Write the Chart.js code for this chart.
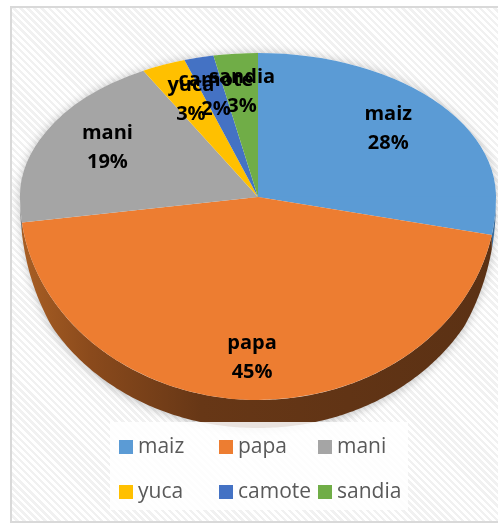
<!DOCTYPE html>
<html>
<head>
<meta charset="utf-8">
<script src="https://cdn.jsdelivr.net/npm/chart.js@4/dist/chart.umd.min.js"></script>
<style>
  html, body { margin: 0; padding: 0; background: #ffffff; width: 498px; height: 525px; overflow: hidden; }
  #frame {
    position: absolute; left: 10px; top: 6px; width: 500px; height: 513px;
    border: 2px solid #d9d9d9;
    background: repeating-linear-gradient(45deg, #ffffff 0px, #ffffff 2.5px, #f1f1f1 2.5px, #f1f1f1 5px);
  }
  #chart { position: absolute; left: 0; top: 0; z-index: 1; }
  #legend {
    position: absolute; left: 110px; top: 422px; width: 298px; height: 88px;
    background: rgba(255,255,255,0.86); z-index: 2;
    font-family: "Open Sans", sans-serif; font-size: 21px; color: #595959;
  }
  .item { position: absolute; height: 20px; line-height: 20px; white-space: nowrap; }
  .box { position: absolute; left: 0; top: 3px; width: 14px; height: 14px; }
  .txt { position: absolute; left: 19px; top: -2px; }
</style>
</head>
<body>
<div id="frame"></div>
<canvas id="chart" width="498" height="525"></canvas>
<div id="legend"></div>
<script>
const categories = ['maiz', 'papa', 'mani', 'yuca', 'camote', 'sandia'];
const values = [28, 45, 19, 3, 2, 3];
const colors = ['#5B9BD5', '#ED7D31', '#A5A5A5', '#FFC000', '#4472C4', '#70AD47'];
const sideColors = ['#3b6d9c', null, '#6f6f6f', '#b08500', '#2d4f8a', '#4d7a30'];

const CY = 197, K_TOP = 0.605, K_BOT = 0.853, DEPTH = 28;

function halfK(dy) { return dy < 0 ? K_TOP : K_BOT; }

const pie3d = {
  id: 'pie3d',
  beforeDatasetsDraw(chart) {
    const meta = chart.getDatasetMeta(0);
    const ctx = chart.ctx;
    const a0 = meta.data[0];
    const ox = a0.x, oy = a0.y, R = a0.outerRadius;
    const cx = ox, cy = CY;
    const W = chart.width, H = chart.height;

    // soft shadow under silhouette of top face
    ctx.save();
    ctx.shadowColor = 'rgba(0,0,0,0.22)';
    ctx.shadowBlur = 10;
    ctx.fillStyle = '#ffffff';
    ctx.beginPath();
    for (let i = 0; i <= 360; i++) {
      const a = i / 360 * Math.PI * 2;
      const s = Math.sin(a);
      const x = cx + R * Math.cos(a);
      const y = cy + R * s * (s < 0 ? K_TOP : K_BOT);
      if (i === 0) ctx.moveTo(x, y); else ctx.lineTo(x, y);
    }
    ctx.closePath();
    ctx.fill();
    ctx.restore();

    // side walls
    const depthAt = a => DEPTH * Math.pow(Math.min(Math.max(Math.sin(a), 0) / 0.5, 1), 0.7);
    meta.data.forEach((arc, i) => {
      const s = arc.startAngle, e = arc.endAngle;
      const ranges = [[s, e], [s - 2 * Math.PI, e - 2 * Math.PI]];
      ranges.forEach(([rs, re]) => {
        const from = Math.max(rs, 0), to = Math.min(re, Math.PI);
        if (to <= from) return;
        const n = Math.max(4, Math.ceil((to - from) * 80));
        ctx.save();
        ctx.beginPath();
        for (let j = 0; j <= n; j++) {
          const a = from + (to - from) * j / n;
          const x = cx + R * Math.cos(a), y = cy + R * K_BOT * Math.sin(a);
          if (j === 0) ctx.moveTo(x, y); else ctx.lineTo(x, y);
        }
        for (let j = n; j >= 0; j--) {
          const a = from + (to - from) * j / n;
          const x = cx + R * Math.cos(a), y = cy + R * K_BOT * Math.sin(a) + depthAt(a);
          ctx.lineTo(x, y);
        }
        ctx.closePath();
        if (sideColors[i]) {
          ctx.fillStyle = sideColors[i];
        } else {
          const g = ctx.createLinearGradient(cx - R, 0, cx + R, 0);
          g.addColorStop(0, '#a95f24');
          g.addColorStop(0.15, '#8a4a1c');
          g.addColorStop(0.38, '#673716');
          g.addColorStop(1, '#5b3114');
          ctx.fillStyle = g;
        }
        ctx.shadowColor = 'rgba(0,0,0,0.22)';
        ctx.shadowBlur = 8;
        ctx.shadowOffsetY = 2;
        ctx.fill();
        ctx.restore();
      });
    });

    // top face: two affine halves approximating perspective
    const halves = [[0, cy + 0.6, K_TOP], [cy - 0.6, H, K_BOT]];
    halves.forEach(([y0, y1, k]) => {
      ctx.save();
      ctx.beginPath();
      ctx.rect(0, y0, W, y1 - y0);
      ctx.clip();
      ctx.translate(cx, cy);
      ctx.scale(1, k);
      ctx.translate(-ox, -oy);
      meta.controller.draw();
      ctx.restore();
    });
    return false;
  },
  afterDraw(chart) {
    const meta = chart.getDatasetMeta(0);
    const ctx = chart.ctx;
    const total = values.reduce((a, b) => a + b, 0);
    ctx.save();
    ctx.font = 'bold 20px "Open Sans"';
    ctx.fillStyle = '#000000';
    ctx.textAlign = 'center';
    ctx.textBaseline = 'middle';
    meta.data.forEach((arc, i) => {
      const R = arc.outerRadius;
      const mid = (arc.startAngle + arc.endAngle) / 2;
      const s = Math.sin(mid);
      const f = s < 0 ? 0.71 : 0.79;
      const x = arc.x + R * f * Math.cos(mid);
      const y = CY + R * f * s * halfK(s) - (s < 0 ? 3 : 0);
      const pct = Math.round(values[i] / total * 100) + '%';
      ctx.fillText(categories[i], x, y - 14.5);
      ctx.fillText(pct, x, y + 14.5);
    });
    ctx.restore();
  }
};

new Chart(document.getElementById('chart'), {
  type: 'pie',
  data: {
    labels: categories,
    datasets: [{ data: values, backgroundColor: colors, borderWidth: 0 }]
  },
  options: {
    responsive: false,
    animation: false,
    devicePixelRatio: 1,
    layout: { padding: { left: 20, right: 2, top: 0, bottom: 49 } },
    plugins: { legend: { display: false }, tooltip: { enabled: false } }
  },
  plugins: [pie3d]
});

// legend (grid layout like the original)
const legend = document.getElementById('legend');
const colX = [9, 109, 208];
const rowY = [15, 60];
categories.forEach((c, i) => {
  const it = document.createElement('div');
  it.className = 'item';
  it.style.left = colX[i % 3] + 'px';
  it.style.top = rowY[Math.floor(i / 3)] + 'px';
  const b = document.createElement('span');
  b.className = 'box';
  b.style.background = colors[i];
  const t = document.createElement('span');
  t.className = 'txt';
  t.textContent = c;
  it.appendChild(b); it.appendChild(t);
  legend.appendChild(it);
});
</script>
</body>
</html>
